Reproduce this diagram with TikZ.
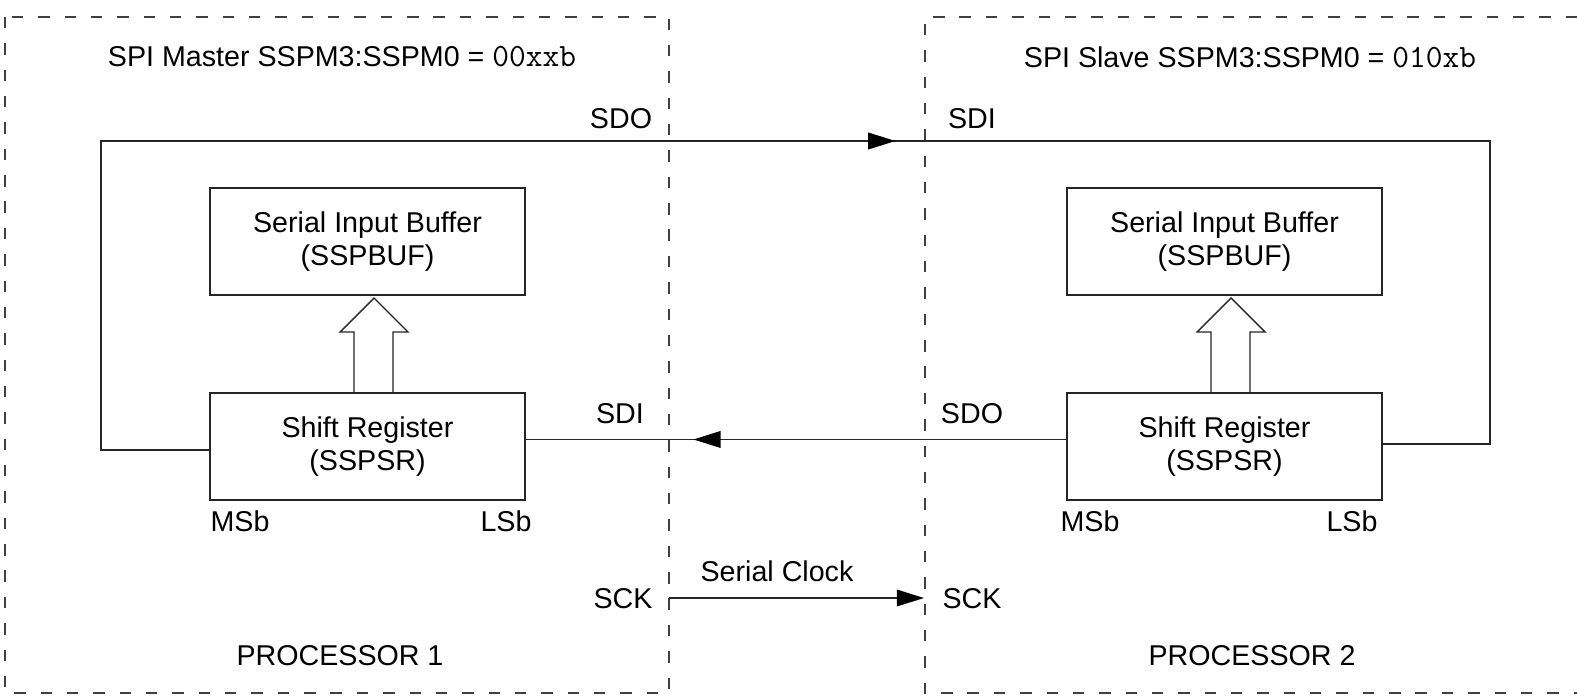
\documentclass[tikz,border=0pt]{standalone}
\usepackage{fontspec}
\setmainfont{Liberation Sans}
\usetikzlibrary{arrows.meta,decorations.markings}
\begin{document}
\begin{tikzpicture}[x=0.02cm,y=-0.02cm,
  font=\fontsize{16.3}{18.5}\selectfont,
  wire/.style={draw=black!85, line width=0.8pt},
  boxnode/.style={draw=black!85, line width=0.8pt, minimum width=6.3cm, minimum height=2.14cm, align=center, inner sep=0pt},
  frame/.style={draw=black!75, line width=0.6pt, dash pattern=on 6.5pt off 8.5pt},
  lbl/.style={inner sep=0pt},
  sig/.tip={Triangle[length=15.5pt,width=9.5pt,color=black]}
]
\useasboundingbox (0,0) rectangle (1577,696);
\fill[white] (0,0) rectangle (1577,696);

% processor frames
\draw[frame] (5,17) rectangle (669,693);
\draw[frame] (1577,17) -- (925,17) -- (925,693) -- (1577,693);

% titles
\node[lbl] (t1) at (342,57) {SPI Master SSPM3:SSPM0 = {\fontsize{18.5}{20}\selectfont\ttfamily 00xxb}};
\node[lbl] (t2) at (1250,57) {SPI Slave SSPM3:SSPM0 = {\fontsize{18.5}{20}\selectfont\ttfamily 010xb}};

% boxes
\node[boxnode] (lbuf) at (367.5,241.5) {Serial Input Buffer\\(SSPBUF)};
\node[boxnode] (lsr) at (367.5,446.5) {Shift Register\\(SSPSR)};
\node[boxnode] (rbuf) at (1224.5,241.5) {Serial Input Buffer\\(SSPBUF)};
\node[boxnode] (rsr) at (1224.5,446.5) {Shift Register\\(SSPSR)};

% hollow transfer arrows
\draw[wire, line join=miter] (354,393) -- (354,332) -- (340,332) -- (374,298) -- (408,332) -- (393,332) -- (393,393);
\draw[wire, line join=miter] (1211,393) -- (1211,332) -- (1197,332) -- (1231,298) -- (1265,332) -- (1250,332) -- (1250,393);

% labels
\node[lbl] (sdo1) at (621,119) {SDO};
\node[lbl] (sdi2) at (972,119) {SDI};
\node[lbl] (sdi1) at (620,414) {SDI};
\node[lbl] (sdo2) at (972,414) {SDO};
\node[lbl] (msb1) at (240,521) {MSb};
\node[lbl] (lsb1) at (506,521) {LSb};
\node[lbl] (msb2) at (1090,521) {MSb};
\node[lbl] (lsb2) at (1352,521) {LSb};
\node[lbl] (clk) at (777,571) {Serial Clock};
\node[lbl] (sck1) at (623,599) {SCK};
\node[lbl] (sck2) at (972,599) {SCK};
\node[lbl] (p1) at (340,656) {PROCESSOR 1};
\node[lbl] (p2) at (1252,656) {PROCESSOR 2};

% connectors
\coordinate (tl) at (101,141);
\coordinate (tr) at (1490,141);
\draw[wire, postaction={decorate},
  decoration={markings, mark=at position 24.24cm with {\arrow{sig}}}]
  ([yshift=-2pt]lsr.west) -| (tl) -- (tr) |- ([yshift=1.4pt]rsr.east);
\draw[wire, postaction={decorate},
  decoration={markings, mark=at position 7.46cm with {\arrow{sig}}}]
  ([yshift=4pt]rsr.west) -- ([yshift=4pt]lsr.east);
\coordinate (c1) at (669,598);
\coordinate (c2) at (924,598);
\draw[wire, -sig] (c1) -- (c2);
\end{tikzpicture}
\end{document}
